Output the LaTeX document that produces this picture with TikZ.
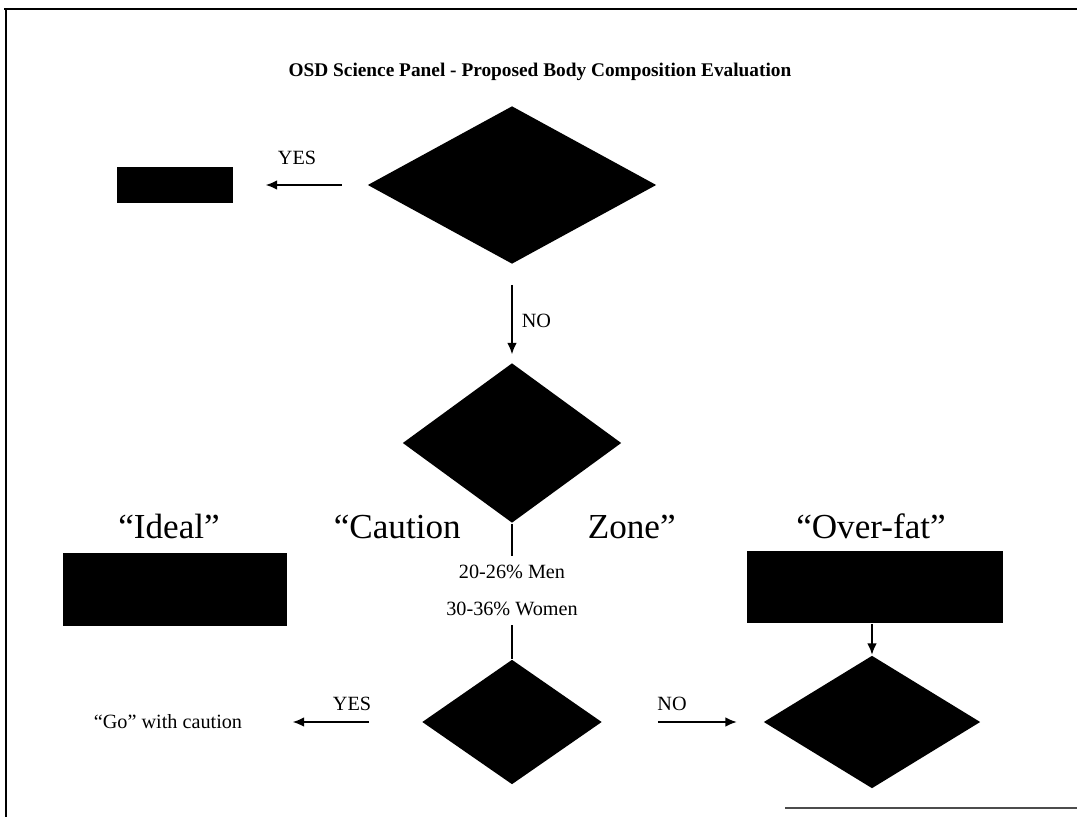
\documentclass[tikz,border=0pt]{standalone}
\usepackage{fontspec}
\setmainfont{Liberation Serif}
\usetikzlibrary{shapes.geometric,arrows.meta}
\tikzset{
  decision/.style={diamond,fill=black,inner sep=0pt},
  outcome/.style={rectangle,fill=black,inner sep=0pt},
  zone/.style={font=\fontsize{20}{22}\selectfont,inner sep=0pt,anchor=base},
  small/.style={font=\fontsize{11.5}{13}\selectfont}
}

\begin{document}
\begin{tikzpicture}[x=0.02cm,y=-0.02cm,line width=0.9pt,>={Latex[length=6.5pt,width=5.5pt]}]
\useasboundingbox (0,0) rectangle (1077,817);
% frame of the scan
\draw [line width=1.6pt] (4,9) -- (1077,9);
\draw [line width=1.4pt] (6,9) -- (6,817);
\draw [line width=0.8pt,black!70] (785,808) -- (1077,808);
\node (titre) at (540,72) {\fontsize{11}{13}\selectfont\bfseries OSD Science Panel - Proposed Body Composition Evaluation};
% first test
\node [decision,minimum width=5.78cm,minimum height=3.16cm] (q1) at (512,185) {};
\node [outcome,minimum width=2.32cm,minimum height=0.72cm] (r1) at (175,185) {};
\draw [->] ([xshift=-0.5cm]q1.west) -- ([xshift=0.64cm]r1.east);
\node [small] (oui1) at (297,158) {YES};
\node [decision,minimum width=4.38cm,minimum height=3.2cm] (q2) at (512,443) {};
\draw [->] ([yshift=-0.4cm]q1.south) -- ([yshift=0.16cm]q2.north);
\node [small,anchor=west,inner sep=0pt] (non1) at (521,321) {NO};
% zones
\node [zone,anchor=base west] (caution) at (333,538) {“Caution};
\node [zone,anchor=base west] (zone) at (587,538) {Zone”};
\node [zone] (ideal) at (169,538) {“Ideal”};
\node [zone] (overfat) at (871,538) {“Over-fat”};
\node [outcome,minimum width=4.48cm,minimum height=1.46cm] (r2) at (175,589.5) {};
\node [outcome,minimum width=5.12cm,minimum height=1.44cm] (r3) at (875,587) {};
\node [small,inner sep=5pt] (men) at (512,572) {20-26\% Men};
\node [small,inner sep=5pt] (women) at (512,609) {30-36\% Women};
\draw (q2.south) -- (men.north);
% second test
\node [decision,minimum width=3.6cm,minimum height=2.5cm] (q3) at (512,722) {};
\draw (women.south) -- (q3.north);
\node [small] (go) at (168,722) {“Go” with caution};
\draw [->] ([xshift=-1.04cm]q3.west) -- ([xshift=0.88cm]go.east);
\node [small] (oui2) at (352,704) {YES};
\node [decision,minimum width=4.34cm,minimum height=2.66cm] (q4) at (872,722) {};
\draw [->] ([xshift=1.1cm]q3.east) -- ([xshift=-0.52cm]q4.west);
\node [small] (non2) at (672,704) {NO};
\draw [->] (q4.north |- r3.south) -- (q4.north);
\end{tikzpicture}
\end{document}
